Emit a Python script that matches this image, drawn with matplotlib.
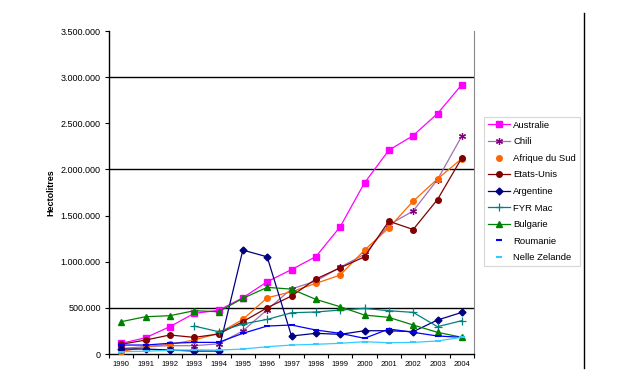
import matplotlib
matplotlib.use("Agg")
import matplotlib.pyplot as plt
from matplotlib.lines import Line2D
import numpy as np

plt.rcParams['font.family'] = ['Liberation Sans', 'DejaVu Sans']

years = ['1990', '1991', '1992', '1993', '1994', '1995', '1996', '1997',
         '1998', '1999', '2000', '2001', '2002', '2003', '2004']

australie = [115000, 176000, 296000, 440000, 473000, 609000, 783000, 915000,
             1055000, 1378000, 1854000, 2208000, 2367000, 2605000, 2919000]
chili = [60000, 80000, 90000, 90000, 110000, 250000, 480000, 705000,
         790000, 940000, 1080000, 1400000, 1550000, 1890000, 2362000]
afrique_sud = [25000, 79000, 105000, 151000, 224000, 375000, 609000, 675000,
               765000, 855000, 1126000, 1367000, 1656000, 1897000, 2118000]
etats_unis = [105000, 151000, 206000, 180000, 216000, 350000, 501000, 628000,
              812000, 934000, 1053000, 1439000, 1349000, 1674000, 2125000]
argentine = [54000, 54000, 43000, 32000, 32000, 1126000, 1053000, 195000,
             224000, 213000, 252000, 252000, 242000, 368000, 451000]
fyr_mac = [None, None, None, 303000, 242000, 325000, 375000, 447000,
           455000, 476000, 494000, 469000, 451000, 296000, 361000]
bulgarie = [350000, 404000, 415000, 469000, 458000, 603000, 722000, 703000,
            592000, 512000, 422000, 397000, 314000, 235000, 181000]
roumanie = [97000, 97000, 116000, 126000, 126000, 224000, 303000, 314000,
            260000, 224000, 170000, 271000, 235000, 195000, 181000]
nelle_zelande = [25000, 30000, 40000, 45000, 42000, 54000, 79000, 97000,
                 105000, 116000, 133000, 122000, 126000, 141000, 181000]

yticks = [0, 500000, 1000000, 1500000, 2000000, 2500000, 3000000, 3500000]
ytick_labels = ['0', '500.000', '1.000.000', '1.500.000', '2.000.000',
                '2.500.000', '3.000.000', '3.500.000']
grid_values = [500000, 2000000, 3000000]

fig = plt.figure(figsize=(6.4, 3.85), dpi=100)
ax = fig.add_axes([109/640, 31/385, 365/640, 323/385])

x = np.arange(len(years))

def arr(v):
    return np.array([np.nan if a is None else a for a in v], dtype=float)

series = [
    ('Australie', australie, dict(color='#FF00FF', marker='s', ms=4, mfc='#FF00FF', mec='#FF00FF'), True),
    ('Chili', chili, dict(color='#A070B0', marker=(6, 2, 0), ms=5, mfc='#800080', mec='#800080', mew=0.9), True),
    ('Afrique du Sud', afrique_sud, dict(color='#FF6600', marker='o', ms=4, mfc='#FF6600', mec='#FF6600'), False),
    ('Etats-Unis', etats_unis, dict(color='#800000', marker='o', ms=4, mfc='#800000', mec='#800000'), True),
    ('Argentine', argentine, dict(color='#000080', marker='D', ms=3.5, mfc='#000080', mec='#000080'), True),
    ('FYR Mac', fyr_mac, dict(color='#008080', marker='+', ms=6, mew=0.9), True),
    ('Bulgarie', bulgarie, dict(color='#008000', marker='^', ms=4.5, mfc='#008000', mec='#008000'), True),
    ('Roumanie', roumanie, dict(color='#0000FF', marker='_', ms=4, mew=1.5), False),
    ('Nelle Zelande', nelle_zelande, dict(color='#33CCFF', marker='_', ms=5, mew=1.5), False),
]

handles = []
for name, vals, style, legline in series:
    ax.plot(x, arr(vals), lw=0.9, zorder=3, **style)
    hs = dict(style)
    handles.append(Line2D([], [], lw=0.9 if legline else 0,
                          linestyle='-' if legline else 'none', **hs))

ax.set_xlim(-0.5, len(years) - 0.5)
ax.set_ylim(0, 3500000)

ax.set_yticks(yticks)
ax.set_yticklabels(ytick_labels, fontsize=6.5)
ax.set_xticks(x)
ax.set_xticklabels(years, fontsize=5.5)
ax.set_xticks(np.arange(-0.5, len(years)), minor=True)
ax.tick_params(axis='x', which='major', length=0, pad=5)
ax.tick_params(axis='x', which='minor', length=3, width=0.8, direction='out')
ax.tick_params(axis='y', length=3, width=0.8, direction='out', pad=3)

for g in grid_values:
    ax.axhline(g, color='black', lw=1.0, zorder=1)

ax.spines['top'].set_visible(False)
ax.spines['right'].set_color('#888888')
ax.spines['right'].set_linewidth(0.8)
ax.spines['left'].set_linewidth(1.0)
ax.spines['bottom'].set_linewidth(1.0)

ax.set_ylabel('Hectolitres', fontsize=6.5, fontweight='bold', labelpad=4)

leg = fig.legend(handles, [s[0] for s in series], loc='upper left',
                 bbox_to_anchor=(484/640, 1 - 117/385), fontsize=6.8,
                 frameon=True, fancybox=False, edgecolor='#cccccc',
                 handlelength=2.3, labelspacing=0.8, borderpad=0.4,
                 borderaxespad=0, handletextpad=0.4)
leg.get_frame().set_linewidth(0.8)

fig.add_artist(Line2D([584/640, 584/640], [1 - 13/385, 1 - 368/385],
                      transform=fig.transFigure, color='black', lw=1.0))

fig.savefig('out.png', dpi=100)
